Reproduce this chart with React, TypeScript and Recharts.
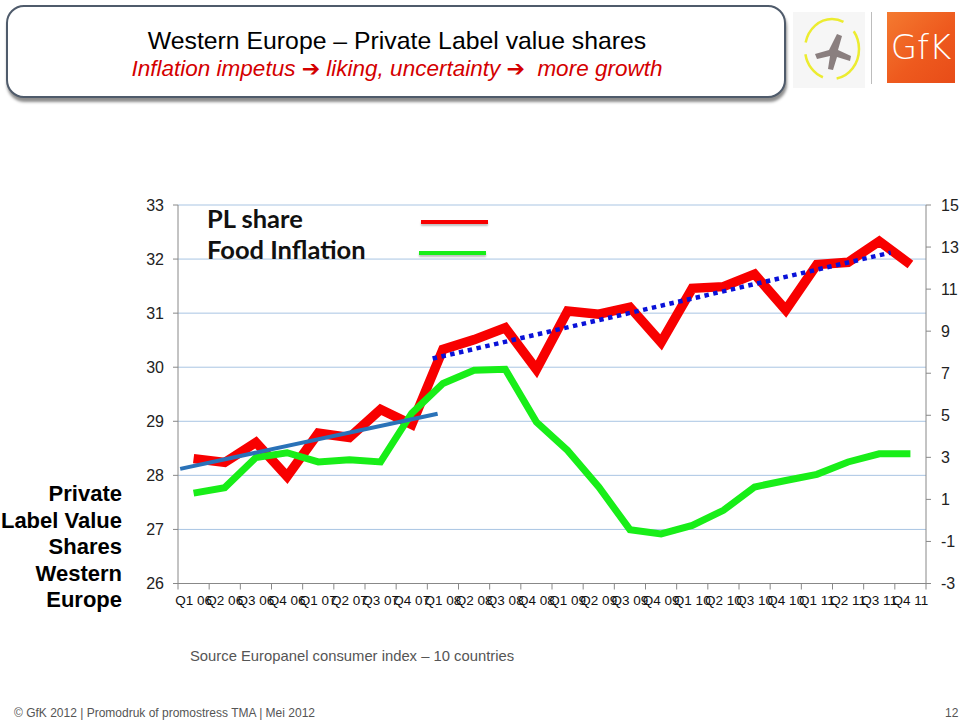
import React from "react";
import { LineChart, Line, XAxis, YAxis, CartesianGrid } from "recharts";

const quarters = [
  "Q1 06", "Q2 06", "Q3 06", "Q4 06",
  "Q1 07", "Q2 07", "Q3 07", "Q4 07",
  "Q1 08", "Q2 08", "Q3 08", "Q4 08",
  "Q1 09", "Q2 09", "Q3 09", "Q4 09",
  "Q1 10", "Q2 10", "Q3 10", "Q4 10",
  "Q1 11", "Q2 11", "Q3 11", "Q4 11",
];
const plShare = [
  28.31, 28.24, 28.61, 27.98, 28.78, 28.7, 29.22, 28.94,
  30.33, 30.51, 30.73, 29.96, 31.04, 30.98, 31.11, 30.46,
  31.46, 31.49, 31.72, 31.06, 31.9, 31.94, 32.33, 31.9,
];
const foodInflation = [
  1.3, 1.56, 2.99, 3.22, 2.78, 2.89, 2.78, 5.1,
  6.51, 7.14, 7.19, 4.68, 3.33, 1.59, -0.44, -0.64,
  -0.24, 0.48, 1.59, 1.9, 2.19, 2.78, 3.17, 3.17,
];
const trendEarlyX = [-0.43, 7.83];
const trendEarlyY = [28.12, 29.14];
const trendLateX = [7.67, 22.37];
const trendLateY = [30.16, 32.12];
const leftTicks = [26, 27, 28, 29, 30, 31, 32, 33];
const rightTicks = [-3, -1, 1, 3, 5, 7, 9, 11, 13, 15];

const rows = quarters.map((q, i) => ({ i, q, pl: plShare[i], infl: foodInflation[i] }));
const trendEarly = trendEarlyX.map((x, k) => ({ i: x, v: trendEarlyY[k] }));
const trendLate = trendLateX.map((x, k) => ({ i: x, v: trendLateY[k] }));
const boundaries = quarters.map((_, i) => i - 0.5).concat([quarters.length - 0.5]);

const W = 959;
const H = 722;
const MARGIN = { top: 205, right: 0, bottom: 108.5, left: 128 };
const LEFT_W = 50;
const RIGHT_W = 33;
const PLOT_W = W - MARGIN.left - MARGIN.right - LEFT_W - RIGHT_W;
const HALF = PLOT_W / quarters.length / 2;
const FONT = "'Liberation Sans', Arial, sans-serif";
const AXIS = "#888888";

const XTick = (props: any) => {
  const { x, y, payload } = props;
  const label = quarters[Math.round(payload.value + 0.5)];
  if (!label) return <g />;
  return (
    <text x={x + HALF} y={y} dy="0.71em" textAnchor="middle" fontSize={13.5} fontFamily={FONT} fill="#111">
      {label}
    </text>
  );
};

const arrow = { fontStyle: "normal" as const, fontFamily: "'DejaVu Sans'", fontSize: 22 };

export default function App() {
  return (
    <div style={{ position: "absolute", left: 0, top: 0, width: W, height: H, background: "#fff", overflow: "hidden", fontFamily: FONT }}>
      {/* Title box */}
      <div
        style={{
          position: "absolute", left: 6, top: 5, width: 776, height: 89,
          border: "2px solid #4f5b6b", borderRadius: 18, background: "#fff",
          boxShadow: "1px 4px 3px rgba(0,0,0,0.45)",
        }}
      />
      <div style={{ position: "absolute", left: 6, top: 27, width: 782, textAlign: "center", fontSize: 24.8, color: "#000", whiteSpace: "nowrap" }}>
        Western Europe – Private Label value shares
      </div>
      <div style={{ position: "absolute", left: 6, top: 56, width: 782, textAlign: "center", fontSize: 22.5, fontStyle: "italic", color: "#d40000", whiteSpace: "nowrap" }}>
        Inflation impetus <span style={arrow}>➔</span> liking, uncertainty <span style={arrow}>➔</span>&nbsp; more growth
      </div>

      {/* Logos */}
      <div style={{ position: "absolute", left: 793, top: 12, width: 72, height: 76, background: "#f6f6f6" }} />
      <svg style={{ position: "absolute", left: 793, top: 12 }} width={72} height={76}>
        <ellipse cx={39} cy={37} rx={27} ry={30} fill="none" stroke="#ecec30" strokeWidth={2.5} strokeDasharray="40 14 30 12 50 14" />
        <path d="M22 42 L36 38 L44 22 L49 24 L45 38 L58 44 L57 49 L44 45 L40 58 L35 57 L37 44 L24 47 Z" fill="#8a7f7f" />
      </svg>
      <div style={{ position: "absolute", left: 871, top: 12, width: 1, height: 72, background: "#bdbdbd" }} />
      <div
        style={{
          position: "absolute", left: 887, top: 12, width: 68, height: 71,
          background: "linear-gradient(135deg, #f47a30 0%, #ee5a1e 55%, #e84c18 100%)",
          color: "#fff", fontSize: 34, lineHeight: "71px", textAlign: "center", fontFamily: "'DejaVu Sans', sans-serif", fontWeight: 200,
        }}
      >
        GfK
      </div>

      <div style={{ position: "absolute", left: 0, top: 0 }}>
        <LineChart width={W} height={H} data={rows} margin={MARGIN}>
          <CartesianGrid yAxisId="left" vertical={false} stroke="#a9c5e3" strokeWidth={1} />
          <XAxis
            type="number"
            dataKey="i"
            domain={[-0.5, quarters.length - 0.5]}
            ticks={boundaries}
            interval={0}
            allowDecimals
            tick={<XTick />}
            tickLine={{ stroke: AXIS }}
            axisLine={{ stroke: AXIS }}
            tickSize={6}
            tickMargin={6}
            height={30}
          />
          <YAxis
            yAxisId="left"
            orientation="left"
            domain={[26, 33]}
            ticks={leftTicks}
            interval={0}
            width={LEFT_W}
            tickSize={5}
            tickMargin={9}
            tick={{ fontSize: 16, fill: "#222", fontFamily: FONT }}
            tickLine={{ stroke: AXIS }}
            axisLine={{ stroke: AXIS }}
          />
          <YAxis
            yAxisId="right"
            orientation="right"
            domain={[-3, 15]}
            ticks={rightTicks}
            interval={0}
            width={RIGHT_W}
            tickSize={5}
            tickMargin={10}
            tick={{ fontSize: 16, fill: "#222", fontFamily: FONT }}
            tickLine={{ stroke: AXIS }}
            axisLine={{ stroke: AXIS }}
          />
          <Line yAxisId="left" dataKey="pl" stroke="#f80000" strokeWidth={9.5} dot={false} activeDot={false} isAnimationActive={false} type="linear" />
          <Line yAxisId="right" dataKey="infl" stroke="#18ee18" strokeWidth={7} dot={false} activeDot={false} isAnimationActive={false} type="linear" />
          <Line yAxisId="left" data={trendEarly} dataKey="v" stroke="#2a72b8" strokeWidth={4} dot={false} activeDot={false} isAnimationActive={false} type="linear" />
          <Line yAxisId="left" data={trendLate} dataKey="v" stroke="#0a12d8" strokeWidth={4.5} strokeDasharray="4.5 4.5" dot={false} activeDot={false} isAnimationActive={false} type="linear" />
        </LineChart>
      </div>

      {/* Legend */}
      <div style={{ position: "absolute", left: 207, top: 203, fontFamily: "Lato, 'Open Sans', sans-serif", fontWeight: 700, fontSize: 25.5, lineHeight: "31px", color: "#111", whiteSpace: "nowrap" }}>
        <div>PL share</div>
        <div>Food Inflation</div>
      </div>
      <div style={{ position: "absolute", left: 421, top: 220, width: 67, height: 4, background: "#f80000", boxShadow: "0 2px 2px rgba(0,0,0,0.25)" }} />
      <div style={{ position: "absolute", left: 419, top: 251, width: 67, height: 4, background: "#18ee18", boxShadow: "0 2px 2px rgba(0,0,0,0.25)" }} />

      {/* Left title */}
      <div style={{ position: "absolute", right: W - 122, top: 481, textAlign: "right", fontWeight: 700, fontSize: 22, lineHeight: "26.5px", color: "#000", whiteSpace: "nowrap" }}>
        Private
        <br />
        Label Value
        <br />
        Shares
        <br />
        Western
        <br />
        Europe
      </div>

      {/* Source & footer */}
      <div style={{ position: "absolute", left: 190, top: 648, fontSize: 14.8, color: "#555", whiteSpace: "nowrap" }}>
        Source Europanel consumer index – 10 countries
      </div>
      <div style={{ position: "absolute", left: 14, top: 706, fontSize: 12, color: "#555", whiteSpace: "nowrap" }}>
        © GfK 2012 | Promodruk of promostress TMA | Mei 2012
      </div>
      <div style={{ position: "absolute", left: 945, top: 706, fontSize: 12, color: "#555" }}>12</div>
    </div>
  );
}
